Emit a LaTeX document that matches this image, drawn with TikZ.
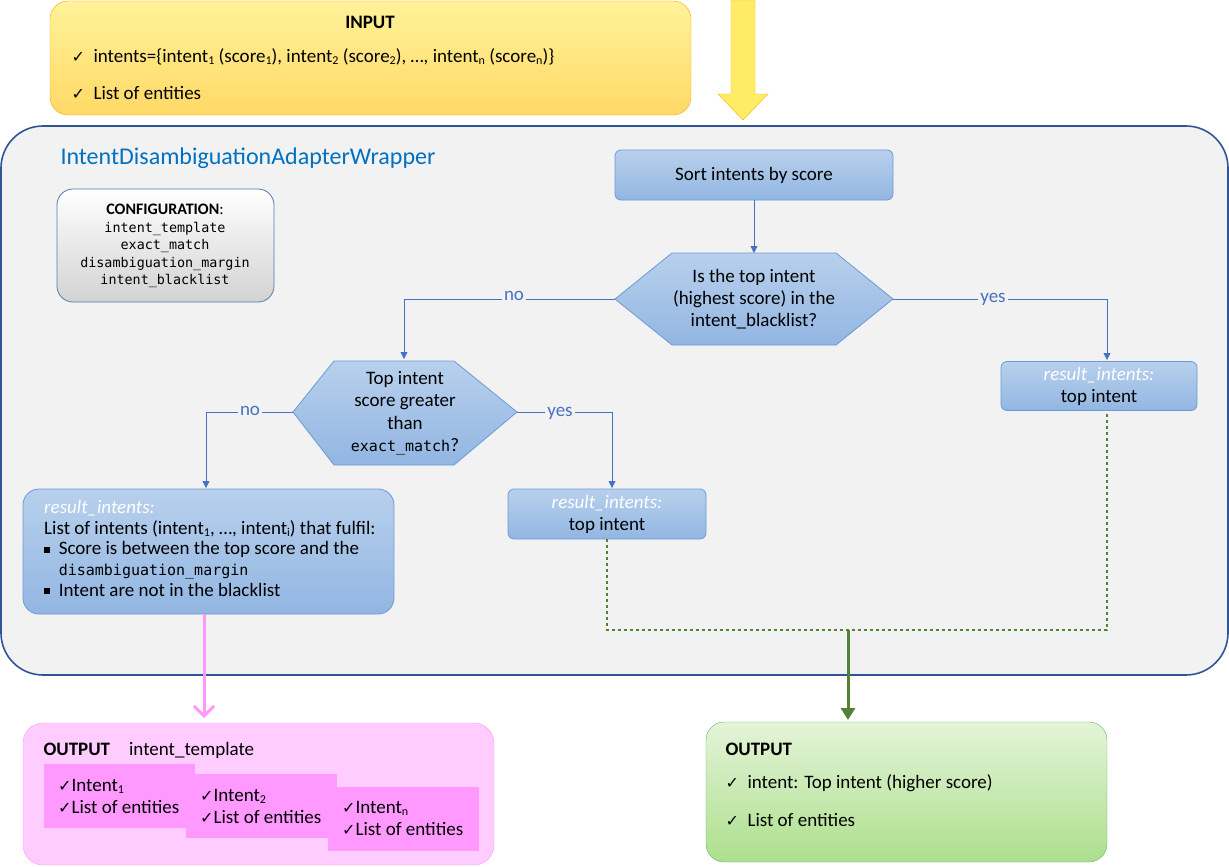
\documentclass[tikz,border=0pt]{standalone}
\usepackage{fontspec}
\setmainfont{Carlito}
\setmonofont{DejaVu Sans Mono}
\newfontfamily\symfont{DejaVu Sans}
\usetikzlibrary{arrows.meta,positioning}
\definecolor{frameblue}{HTML}{2F5597}
\definecolor{boxblue}{HTML}{6A9BD6}
\definecolor{boxtop}{HTML}{B8D0EC}
\definecolor{boxbottom}{HTML}{92B6E2}
\definecolor{labelblue}{HTML}{4472C4}
\definecolor{titleblue}{HTML}{0070C0}
\definecolor{darkgreen}{HTML}{538135}
\definecolor{cardpink}{HTML}{FF99FF}
\definecolor{lightpink}{HTML}{FFCCFF}
\newcommand{\lowidx}[1]{\raisebox{-0.25ex}{\fontsize{12}{12}\selectfont #1}}
\newcommand{\tick}{{\symfont\fontsize{16}{16}\selectfont ✓}}
\newcommand{\sqbullet}{\rule[0.25ex]{6pt}{6pt}}
\tikzset{
  bluebox/.style={draw=boxblue, rounded corners=8pt, top color=boxtop, bottom color=boxbottom, line width=0.8pt},
  hexa/.style={draw=boxblue, top color=boxtop, bottom color=boxbottom, line width=0.8pt},
  flow/.style={draw=labelblue, line width=0.8pt, -{Triangle[length=7pt,width=7pt]}},
  answer/.style={text=labelblue, fill=gray!10, inner sep=2pt},
  bigtxt/.style={font=\fontsize{19}{22}\selectfont},
  pinkcard/.style={draw=none, anchor=north west, minimum width=151pt, minimum height=64pt}
}
\begin{document}
\begin{tikzpicture}[x=1pt,y=-1pt,bigtxt]
\useasboundingbox (0,0) rectangle (1229,867);

% input
\draw[draw=orange!70!yellow, top color=orange!25!yellow!40, bottom color=orange!50!yellow!60, rounded corners=18pt] (50,1) rectangle (691,115);
\node[font=\bfseries\fontsize{19}{22}\selectfont] (intitle) at (370,22) {INPUT};
\node[anchor=west] (inline1) at (68,57) {\tick\ \ intents=\{intent\lowidx{1} (score\lowidx{1}), intent\lowidx{2} (score\lowidx{2}), \dots, intent\lowidx{n} (score\lowidx{n})\}};
\node[anchor=west] (inline2) at (68,93) {\tick\ \ List of entities};
\draw[draw=orange!60!yellow, fill=orange!25!yellow!60] (731,0) -- (755,0) -- (755,94) -- (768,94) -- (743,120) -- (718,94) -- (731,94) -- cycle;

% wrapper
\draw[draw=frameblue, fill=gray!10, line width=1.6pt, rounded corners=42pt] (1,126) rectangle (1228,675);
\node[anchor=west, text=titleblue, font=\fontsize{24}{28}\selectfont] (wraptitle) at (57,158) {IntentDisambiguationAdapterWrapper};

\draw[draw=boxblue!80!black, top color=white, bottom color=gray!35, rounded corners=16pt, line width=0.8pt] (57,189) rectangle (274,302);
\node[align=center, font=\ttfamily\fontsize{13.4}{17.4}\selectfont] (config) at (165,246) {{\rmfamily\bfseries\fontsize{16}{17}\selectfont CONFIGURATION\normalfont:}\\intent\_template\\exact\_match\\disambiguation\_margin\\intent\_blacklist};

% sort and first test
\node[bluebox, minimum width=278pt, minimum height=50pt, rounded corners=6pt] (sort) at (754,175) {Sort intents by score};
\draw[hexa] (615,299) -- (672,253) -- (836,253) -- (893,299) -- (836,345) -- (672,345) -- cycle;
\node[align=center, font=\fontsize{19}{22}\selectfont] (blacklist) at (754,299) {Is the top intent\\(highest score) in the\\intent\_blacklist?};
\coordinate (blacklistN) at (754,253);
\coordinate (blacklistW) at (615,299);
\coordinate (blacklistE) at (893,299);
\draw[flow] (sort) -- (blacklistN);

% second test
\draw[hexa] (293,412) -- (334,361) -- (454,361) -- (517,412) -- (454,465) -- (334,465) -- cycle;
\node[align=center, font=\fontsize{19}{22.5}\selectfont] (exact) at (405,413) {Top intent\\score greater\\than\\\texttt{\fontsize{15}{15}\selectfont exact\_match}?};
\coordinate (exactN) at (404,359);
\coordinate (exactW) at (293,412);
\coordinate (exactE) at (517,412);

% results
\node[bluebox, minimum width=196pt, minimum height=49pt, rounded corners=6pt, align=center, font=\fontsize{19}{22}\selectfont] (topright) at (1099,386) {\textcolor{white}{\itshape result\_intents:}\\top intent};
\node[bluebox, minimum width=198pt, minimum height=50pt, rounded corners=6pt, align=center, font=\fontsize{19}{22}\selectfont] (topmid) at (607,514) {\textcolor{white}{\itshape result\_intents:}\\top intent};
\draw[bluebox, rounded corners=16pt] (23,489) rectangle (394,614);
\coordinate (listS) at (204,614);
\node[anchor=north west, align=left, font=\fontsize{19}{20.8}\selectfont, inner sep=0pt] (listtxt) at (44,500) {\textcolor{white}{\itshape result\_intents:}\\List of intents (intent\lowidx{1}, \dots, intent\lowidx{i}) that fulfil:\\\sqbullet\ \ Score is between the top score and the\\\hphantom{\sqbullet\ \ }\texttt{\fontsize{15}{15}\selectfont disambiguation\_margin}\\\sqbullet\ \ Intent are not in the blacklist};

% decisions
\draw[flow] (blacklistW) -- (404,299) -- (exactN);
\node[answer] (no1) at (514,296) {no};
\draw[flow] (blacklistE) -- (1107,299) -- (1107,360);
\node[answer] (yes1) at (993,299) {yes};
\draw[flow] (exactW) -- (206,412) -- (206,488);
\node[answer] (no2) at (250,411) {no};
\draw[flow] (exactE) -- (612,412) -- (612,488);
\node[answer] (yes2) at (560,413) {yes};

% joins
\coordinate (join) at (848,630);
\draw[darkgreen, dashed, line width=1.2pt] (topmid.south) -- (607,630) -- (1107,630) -- (1107,411);
\draw[darkgreen, line width=3pt, -{Triangle[length=12pt,width=14pt]}] (join) -- (848,720);
\draw[cardpink, line width=3pt, -{Straight Barb[length=10pt,width=20pt]}] (listS) -- (204,718);

% outputs
\draw[draw=cardpink, fill=lightpink, rounded corners=20pt] (23,723) rectangle (494,865);
\node[anchor=west] (outpink) at (40,750) {\textbf{OUTPUT}\quad intent\_template};
\node[pinkcard, fill=cardpink] (card1) at (44,764) {};
\node[anchor=west, align=left, font=\fontsize{19}{22}\selectfont, inner sep=0pt] at (58,796) {\tick Intent\lowidx{1}\\\tick List of entities};
\node[pinkcard, fill=cardpink] (card2) at (186,774) {};
\node[anchor=west, align=left, font=\fontsize{19}{22}\selectfont, inner sep=0pt] at (200,806) {\tick Intent\lowidx{2}\\\tick List of entities};
\node[pinkcard, fill=cardpink] (card3) at (328,787) {};
\node[anchor=west, align=left, font=\fontsize{19}{22}\selectfont, inner sep=0pt] at (342,818) {\tick Intent\lowidx{n}\\\tick List of entities};

\draw[draw=green!50!black!60, top color=green!40!olive!15!white, bottom color=green!45!olive!45, rounded corners=18pt] (706,722) rectangle (1107,862);
\node[anchor=west, font=\bfseries\fontsize{19}{22}\selectfont] (outgreen) at (722,749) {OUTPUT};
\node[anchor=west] (gline1) at (722,783) {\tick\ \ intent: Top intent (higher score)};
\node[anchor=west] (gline2) at (722,820) {\tick\ \ List of entities};
\end{tikzpicture}
\end{document}
